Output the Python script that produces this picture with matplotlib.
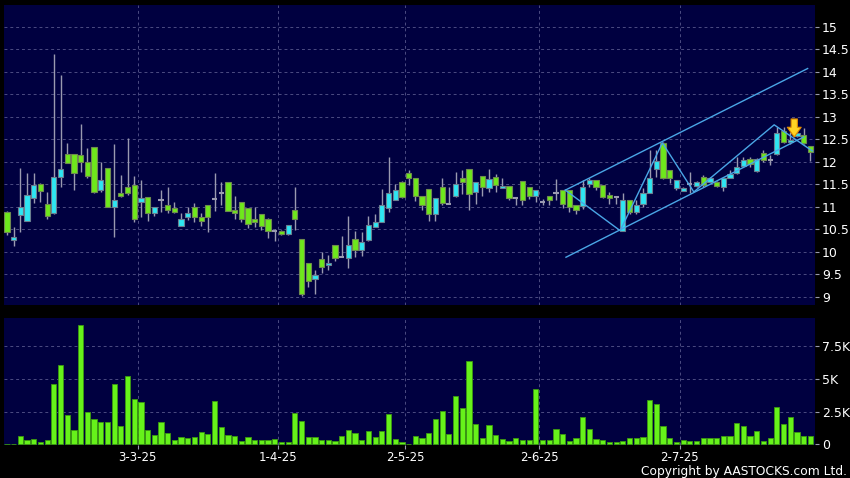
import numpy as np
import matplotlib
matplotlib.use("Agg")
import matplotlib.pyplot as plt


# =========================
# Chart data
# =========================

# daily OHLC, one entry per trading day (3 Feb 2025 .. 29 Jul 2025)
OPEN = [10.89, 10.26, 10.82, 10.69, 11.19, 11.50, 11.06, 10.86, 11.67, 12.17,
        12.17, 12.16, 12.00, 12.32, 11.37, 11.86, 11.00, 11.31, 11.43, 11.48,
        11.10, 11.21, 10.86, 11.14, 11.03, 10.97, 10.57, 10.77, 10.99, 10.77,
        11.03, 11.17, 11.31, 11.56, 10.94, 11.10, 10.98, 10.74, 10.84, 10.74,
        10.46, 10.47, 10.40, 10.93, 10.28, 9.76, 9.39, 9.84, 9.70, 10.15,
        9.89, 9.87, 10.28, 10.04, 10.27, 10.56, 10.67, 10.97, 11.15, 11.55,
        11.74, 11.65, 11.24, 11.40, 10.84, 11.43, 11.07, 11.25, 11.65, 11.83,
        11.33, 11.68, 11.42, 11.66, 11.42, 11.46, 11.20, 11.57, 11.43, 11.24,
        11.11, 11.24, 11.31, 11.37, 11.37, 11.04, 11.01, 11.50, 11.59, 11.48,
        11.27, 11.22, 10.47, 11.16, 10.89, 11.06, 11.31, 11.83, 12.42, 11.81,
        11.41, 11.36, 11.50, 11.46, 11.67, 11.56, 11.56, 11.43, 11.65, 11.74,
        11.90, 12.07, 11.80, 12.20, 12.04, 12.17, 12.68, 12.44, 12.58, 12.59,
        12.36]
HIGH = [10.90, 10.56, 11.86, 11.74, 11.74, 11.52, 11.32, 14.40, 13.93, 12.41,
        12.17, 12.84, 12.30, 12.32, 12.00, 11.86, 12.40, 11.71, 12.52, 11.69,
        11.60, 11.22, 11.00, 11.37, 11.45, 11.10, 10.87, 11.00, 11.08, 10.86,
        11.04, 11.76, 11.56, 11.56, 11.23, 11.10, 10.98, 10.99, 10.84, 10.75,
        10.50, 10.48, 10.60, 11.44, 10.28, 9.76, 9.59, 9.99, 9.93, 10.15,
        10.36, 10.80, 10.47, 10.43, 10.80, 10.84, 11.39, 12.10, 11.50, 11.58,
        11.81, 11.65, 11.24, 11.40, 11.20, 11.63, 11.44, 11.78, 11.81, 11.83,
        11.55, 11.68, 11.83, 11.72, 11.65, 11.46, 11.21, 11.57, 11.43, 11.37,
        11.18, 11.24, 11.61, 11.37, 11.37, 11.04, 11.59, 11.63, 11.59, 11.48,
        11.33, 11.22, 11.30, 11.16, 11.16, 11.41, 12.26, 12.26, 12.43, 11.81,
        11.59, 11.44, 11.78, 11.57, 11.70, 11.66, 11.57, 11.64, 11.82, 12.11,
        12.11, 12.11, 12.08, 12.26, 12.15, 12.78, 12.78, 12.65, 12.66, 12.74,
        12.36]
LOW = [10.37, 10.13, 10.45, 10.68, 11.08, 11.11, 10.74, 10.85, 11.45, 11.97,
       11.37, 11.77, 11.63, 11.30, 11.33, 10.99, 10.34, 11.22, 11.27, 10.67,
       10.78, 10.69, 10.80, 10.89, 10.86, 10.86, 10.57, 10.71, 10.66, 10.57,
       10.45, 10.91, 11.04, 10.90, 10.74, 10.67, 10.52, 10.56, 10.49, 10.30,
       10.23, 10.38, 10.37, 10.48, 9.02, 9.23, 9.07, 9.54, 9.60, 9.79,
       9.88, 9.65, 9.89, 9.91, 10.23, 10.55, 10.66, 10.88, 11.14, 11.20,
       11.48, 11.13, 10.93, 10.69, 10.69, 11.05, 11.06, 11.22, 11.29, 10.92,
       11.07, 11.25, 11.33, 11.33, 11.41, 11.14, 11.03, 11.03, 11.18, 11.11,
       11.03, 11.03, 11.16, 10.98, 10.89, 10.84, 10.96, 11.44, 11.37, 11.19,
       11.06, 11.06, 10.46, 10.85, 10.85, 11.00, 11.30, 11.67, 11.62, 11.52,
       11.37, 11.34, 11.30, 11.45, 11.45, 11.54, 11.44, 11.36, 11.64, 11.72,
       11.89, 11.89, 11.78, 12.00, 11.93, 12.16, 12.41, 12.40, 12.55, 12.40,
       12.02]
CLOSE = [10.45, 10.32, 11.00, 11.26, 11.48, 11.34, 10.80, 11.67, 11.83, 11.98,
         11.74, 11.99, 11.69, 11.32, 11.60, 11.00, 11.16, 11.24, 11.30, 10.74,
         11.19, 10.86, 11.00, 11.14, 10.94, 10.89, 10.72, 10.86, 10.77, 10.69,
         10.78, 11.17, 11.31, 10.91, 10.86, 10.74, 10.62, 10.66, 10.57, 10.47,
         10.46, 10.40, 10.59, 10.74, 9.06, 9.36, 9.48, 9.67, 9.75, 9.87,
         9.89, 10.15, 10.04, 10.22, 10.59, 10.67, 11.04, 11.30, 11.37, 11.22,
         11.63, 11.25, 11.05, 10.84, 11.20, 11.08, 11.07, 11.50, 11.55, 11.29,
         11.55, 11.44, 11.62, 11.49, 11.46, 11.20, 11.20, 11.14, 11.23, 11.37,
         11.11, 11.16, 11.31, 11.07, 10.99, 10.94, 11.43, 11.59, 11.43, 11.22,
         11.19, 11.22, 11.15, 10.89, 11.04, 11.30, 11.63, 12.02, 11.63, 11.63,
         11.59, 11.42, 11.50, 11.56, 11.48, 11.65, 11.46, 11.63, 11.73, 11.89,
         12.05, 11.94, 12.07, 12.05, 12.04, 12.63, 12.43, 12.48, 12.63, 12.41,
         12.22]
VOLUME = [51, 20, 643, 360, 411, 154, 360, 4626, 6040, 2236,
          1105, 9124, 2442, 1902, 1671, 1671, 4600, 1388, 5191, 3495,
          3213, 1079, 720, 1671, 874, 360, 514, 437, 565, 951,
          771, 3290, 1285, 720, 643, 257, 514, 308, 308, 308,
          386, 206, 206, 2390, 1799, 565, 565, 308, 308, 231,
          643, 1105, 874, 308, 1028, 514, 977, 2313, 411, 206,
          51, 643, 463, 822, 1928, 2519, 771, 3701, 2750, 6348,
          1542, 437, 1465, 720, 386, 257, 488, 334, 334, 4241,
          308, 360, 1157, 745, 231, 488, 2107, 1131, 411, 360,
          180, 180, 257, 463, 488, 540, 3392, 3058, 1388, 463,
          206, 308, 231, 231, 488, 463, 463, 617, 591, 1619,
          1388, 617, 1002, 283, 488, 2827, 1568, 2107, 925, 591,
          591]

# month boundaries (between bars) and their labels
MONTH_POS = [19.5, 40.5, 59.5, 79.5, 100.5]
MONTH_LABELS = ["3-3-25", "1-4-25", "2-5-25", "2-6-25", "2-7-25"]

PRICE_TICKS = [9, 9.5, 10, 10.5, 11, 11.5, 12, 12.5, 13, 13.5, 14, 14.5, 15]
VOL_TICKS = [0, 2500, 5000, 7500]
VOL_LABELS = ["0", "2.5K", "5K", "7.5K"]

# drawn trend channel and zigzag (bar index, price)
UPPER_LINE_X = [83.4, 119.6]
UPPER_LINE_Y = [11.37, 14.07]
LOWER_LINE_X = [83.5, 119.0]
LOWER_LINE_Y = [9.88, 12.55]
ZIGZAG_X = [83.4, 91.6, 97.9, 102.6, 114.6, 120.3]
ZIGZAG_Y = [11.37, 10.47, 12.42, 11.33, 12.82, 12.24]

# signal arrow
ARROW_X = 117.6
ARROW_TOP = 12.95
ARROW_TIP = 12.55

# =========================
# Style
# =========================
BG = "#000040"
GRID = "#4c4c82"
UP_COLOR = "#2ee6f2"
DOWN_COLOR = "#6ee81c"
WICK_COLOR = "#9a9ab0"
VOL_COLOR = "#66f21a"
LINE_COLOR = "#4aa6e6"
TEXT = "white"
BODY_W = 0.78


def style_axis(ax):
    ax.set_facecolor(BG)
    for sp in ax.spines.values():
        sp.set_visible(False)
    ax.yaxis.tick_right()
    ax.tick_params(axis="y", colors=WICK_COLOR, labelcolor=TEXT, labelsize=9,
                   length=3, pad=2, direction="out")
    ax.set_xlim(-0.45, 120.7)
    for xp in MONTH_POS:
        ax.axvline(xp, color=GRID, lw=0.7, ls=(0, (3, 3)), zorder=0)


def draw_candles(ax):
    idx = np.arange(len(OPEN))
    o = np.array(OPEN)
    h = np.array(HIGH)
    l = np.array(LOW)
    c = np.array(CLOSE)

    ax.vlines(idx, l, h, color=WICK_COLOR, lw=1, zorder=2)

    up = c > o
    down = c < o
    flat = c == o

    ax.bar(idx[up], (c - o)[up], bottom=o[up], width=BODY_W,
           color=UP_COLOR, edgecolor="#6a7f90", lw=0.8, zorder=3)
    ax.bar(idx[down], (o - c)[down], bottom=c[down], width=BODY_W,
           color=DOWN_COLOR, edgecolor="#6f8a50", lw=0.8, zorder=3)
    ax.hlines(c[flat], idx[flat] - BODY_W / 2, idx[flat] + BODY_W / 2,
              color=WICK_COLOR, lw=1.5, zorder=3)


def main():
    fig = plt.figure(figsize=(8.5, 4.78), dpi=100, facecolor="black")

    ax_p = fig.add_axes([4 / 850, 1 - 305 / 478, 811 / 850, 300 / 478])
    ax_v = fig.add_axes([4 / 850, 1 - 445 / 478, 811 / 850, 127 / 478])

    # ---- price panel ----
    style_axis(ax_p)
    ax_p.set_ylim(8.82, 15.48)
    ax_p.set_yticks(PRICE_TICKS)
    ax_p.set_yticklabels([f"{t:g}" for t in PRICE_TICKS])
    for t in PRICE_TICKS:
        ax_p.axhline(t, color=GRID, lw=0.7, ls=(0, (3, 3)), zorder=0)
    ax_p.set_xticks([])

    draw_candles(ax_p)

    ax_p.plot(UPPER_LINE_X, UPPER_LINE_Y, color=LINE_COLOR, lw=1, zorder=4)
    ax_p.plot(LOWER_LINE_X, LOWER_LINE_Y, color=LINE_COLOR, lw=1, zorder=4)
    ax_p.plot(ZIGZAG_X, ZIGZAG_Y, color=LINE_COLOR, lw=1, zorder=4)

    ax_p.annotate("", xy=(ARROW_X, ARROW_TIP), xytext=(ARROW_X, ARROW_TOP),
                  arrowprops=dict(arrowstyle="simple,head_length=0.7,head_width=1.0,tail_width=0.45",
                                  fc="#ffd424", ec="#e08a00", lw=0.8,
                                  mutation_scale=10, shrinkA=0, shrinkB=0),
                  zorder=6)

    # ---- volume panel ----
    style_axis(ax_v)
    idx = np.arange(len(VOLUME))
    ax_v.bar(idx, VOLUME, width=BODY_W, color=VOL_COLOR,
             edgecolor="#3c9a10", lw=0.6, zorder=3)
    ax_v.set_ylim(-60, 9650)
    ax_v.set_yticks(VOL_TICKS)
    ax_v.set_yticklabels(VOL_LABELS)
    for t in VOL_TICKS[1:]:
        ax_v.axhline(t, color=GRID, lw=0.7, ls=(0, (3, 3)), zorder=0)

    ax_v.set_xticks(MONTH_POS)
    ax_v.set_xticklabels(MONTH_LABELS)
    ax_v.tick_params(axis="x", colors=WICK_COLOR, labelcolor=TEXT,
                     labelsize=8.5, length=3, pad=1.5)

    fig.text(0.996, 3.0 / 478, "Copyright by AASTOCKS.com Ltd.", color=TEXT,
             fontsize=8.8, ha="right", va="baseline")

    fig.savefig("out.png", dpi=100, facecolor="black")


if __name__ == "__main__":
    main()
